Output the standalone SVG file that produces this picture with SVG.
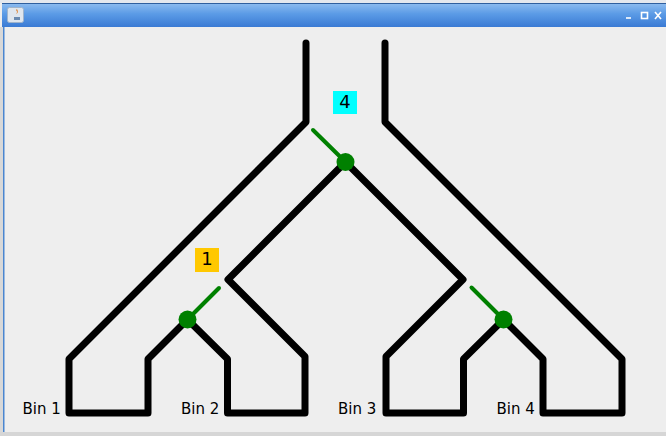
<svg xmlns="http://www.w3.org/2000/svg" width="666" height="436" viewBox="0 0 666 436">
<defs>
<linearGradient id="tb" x1="0" y1="0" x2="0" y2="1">
<stop offset="0" stop-color="#8fbdf0"/>
<stop offset="0.45" stop-color="#5b9be6"/>
<stop offset="1" stop-color="#3a7ad4"/>
</linearGradient>
<style>
.wall{fill:none;stroke:#000;stroke-width:7;stroke-linejoin:round;stroke-linecap:round}
.flap{stroke:#008000;stroke-width:4;stroke-linecap:round}
.hub{fill:#008000}
.bin{font-family:"DejaVu Sans",sans-serif;font-size:15px;fill:#000}
.num{font-family:"DejaVu Sans",sans-serif;font-size:18px;fill:#000;text-anchor:middle}
</style>
</defs>
<rect x="0" y="0" width="666" height="436" fill="#eeeeee"/>
<g id="window-frame">
<rect x="0" y="0" width="666" height="3" fill="#e4e8ee"/>
<rect x="2" y="3" width="664" height="24" fill="url(#tb)"/>
<line x1="2" y1="3.5" x2="666" y2="3.5" stroke="#2f5f9f" stroke-width="1"/>
<rect x="0" y="27" width="3" height="409" fill="#d8d8d8"/>
<rect x="3" y="27" width="1.5" height="406" fill="#4a86d0"/>
<rect x="0" y="432" width="666" height="4" fill="#d6d6d6"/>
<rect x="7.5" y="7.5" width="16" height="15" rx="2" fill="#dfe6ee" stroke="#9fb4cc" stroke-width="1"/>
<path d="M14,17 h6 v3 h-6 z" fill="#6a8ab0"/>
<path d="M16,10 q2,2 0,4 q3,-1 1,-5 z" fill="#e07a20"/>
<g stroke="#ffffff" stroke-width="1.6" fill="none">
<line x1="626" y1="18" x2="631" y2="18"/>
<rect x="641.5" y="12.5" width="6" height="6"/>
<line x1="655" y1="12" x2="661" y2="19"/>
<line x1="661" y1="12" x2="655" y2="19"/>
</g>
</g>
<g id="connectors">
<path class="wall" d="M306,43 V122 L69,359 V413 H148 V359 L187.5,319.5 L227.5,359 V413 H305 V356.5 L228,279.5 L345.5,162 L463,279.5 L386,356.5 V413 H463.5 V359 L503.5,319.5 L543,359 V413 H622 V359 L385,122 V43"/>
</g>
<g id="node-switch-top">
<line class="flap" x1="345.5" y1="162" x2="313" y2="130"/>
<circle class="hub" cx="345.5" cy="162" r="9"/>
</g>
<g id="node-switch-left">
<line class="flap" x1="187.5" y1="319.5" x2="219" y2="288"/>
<circle class="hub" cx="187.5" cy="319.5" r="9"/>
</g>
<g id="node-switch-right">
<line class="flap" x1="503.5" y1="319.5" x2="471.5" y2="287.5"/>
<circle class="hub" cx="503.5" cy="319.5" r="9"/>
</g>
<g id="label-4">
<rect x="333" y="91" width="24" height="23" fill="#00ffff"/>
<text class="num" x="345" y="108">4</text>
</g>
<g id="label-1">
<rect x="195" y="248" width="24" height="24" fill="#ffc800"/>
<text class="num" x="207" y="265">1</text>
</g>
<g id="bin-labels">
<text class="bin" x="22.5" y="414">Bin 1</text>
<text class="bin" x="181" y="414">Bin 2</text>
<text class="bin" x="338" y="414">Bin 3</text>
<text class="bin" x="496.5" y="414">Bin 4</text>
</g>
</svg>
